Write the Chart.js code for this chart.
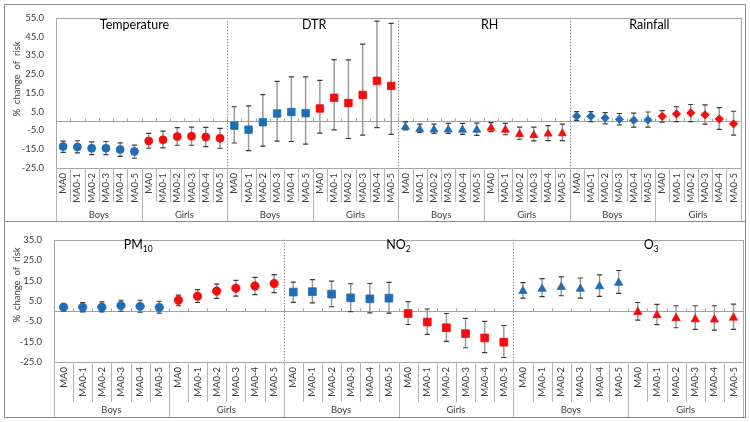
<!DOCTYPE html>
<html>
<head>
<meta charset="utf-8">
<script src="https://cdn.jsdelivr.net/npm/chart.js@4.4.1/dist/chart.umd.min.js"></script>
<style>
  body { margin: 0; background: #fff; }
  canvas { display: block; }
</style>
</head>
<body>
<canvas id="topChart" width="750" height="222"></canvas>
<canvas id="bottomChart" width="750" height="200"></canvas>
<script>
// Categories
const lags = ['MA0', 'MA0-1', 'MA0-2', 'MA0-3', 'MA0-4', 'MA0-5'];
const sexes = ['Boys', 'Girls'];

// Top panel: weather factors
const topFactors = ['Temperature', 'DTR', 'RH', 'Rainfall'];
const topYTicks = [-25, -15, -5, 5, 15, 25, 35, 45, 55];

// each array: Boys MA0..MA0-5, then Girls MA0..MA0-5
const tempEst  = [-13.6, -13.8, -14.5, -14.5, -15.2, -16.2, -10.6, -10.0, -8.3, -8.1, -8.5, -9.2];
const tempLow  = [-16.7, -17.0, -17.9, -17.9, -18.8, -19.8, -14.5, -14.3, -12.9, -12.9, -13.6, -14.5];
const tempHigh = [-10.7, -10.5, -11.1, -10.9, -11.6, -12.8, -6.6, -5.4, -3.5, -3.2, -3.4, -3.9];

const dtrEst  = [-2.5, -4.6, -0.6, 4.0, 4.8, 4.2, 6.7, 12.4, 9.6, 13.9, 21.4, 18.7];
const dtrLow  = [-11.7, -15.7, -13.4, -10.7, -10.9, -12.3, -6.4, -4.7, -9.3, -7.5, -3.5, -7.1];
const dtrHigh = [7.6, 8.1, 14.1, 21.1, 23.5, 23.5, 21.6, 32.7, 32.5, 40.9, 53.2, 52.0];

const rhEst  = [-3.2, -4.4, -4.6, -4.6, -4.7, -4.7, -3.7, -4.7, -7.0, -7.5, -6.8, -6.6];
const rhLow  = [-4.7, -6.1, -6.6, -6.6, -7.1, -7.6, -5.6, -7.3, -9.7, -10.6, -10.4, -10.4];
const rhHigh = [-0.5, -1.6, -1.6, -1.3, -1.3, -1.1, -0.8, -1.3, -3.2, -3.2, -2.4, -1.6];

const rainEst  = [2.6, 2.5, 1.6, 0.9, 0.4, 0.6, 2.5, 3.8, 4.3, 3.3, 1.1, -1.5];
const rainLow  = [0.4, -0.3, -1.5, -2.1, -3.2, -3.2, -0.6, -0.3, -0.3, -1.6, -4.4, -7.5];
const rainHigh = [5.0, 5.0, 4.5, 4.0, 4.2, 4.8, 5.5, 7.6, 8.8, 8.6, 7.1, 5.2];

// Bottom panel: air pollutants
const bottomFactors = ['PM10', 'NO2', 'O3'];
const bottomYTicks = [-25, -15, -5, 5, 15, 25, 35];

const pmEst  = [1.9, 1.9, 1.9, 2.7, 2.3, 1.8, 5.3, 7.3, 9.8, 11.2, 12.3, 13.5];
const pmLow  = [0.1, -0.4, -0.4, -0.1, -0.6, -1.0, 2.6, 4.2, 6.2, 7.3, 8.1, 9.0];
const pmHigh = [3.7, 4.2, 4.5, 5.3, 5.3, 4.8, 7.8, 10.5, 13.2, 15.0, 16.5, 17.9];

const no2Est  = [9.3, 9.5, 8.3, 6.5, 6.0, 6.3, -1.2, -5.4, -8.2, -11.1, -13.2, -15.3];
const no2Low  = [4.3, 4.0, 2.1, -0.3, -0.9, -1.0, -6.6, -11.4, -14.9, -18.0, -20.4, -22.8];
const no2High = [14.2, 15.4, 14.7, 13.4, 13.5, 14.1, 4.6, 1.0, -1.2, -3.6, -5.1, -7.1];

const o3Est  = [9.8, 10.9, 11.8, 10.9, 12.1, 13.8, -0.5, -2.1, -3.5, -4.1, -4.2, -3.3];
const o3Low  = [6.3, 7.1, 7.5, 6.3, 7.2, 8.7, -4.5, -6.7, -8.2, -9.0, -9.4, -9.0];
const o3High = [13.9, 15.9, 16.8, 16.2, 17.7, 19.9, 4.2, 3.3, 2.6, 2.6, 2.6, 3.4];

// Styling
const FONT = 'Lato, "Liberation Sans", sans-serif';
const sexColors = ['#1f6db5', '#f20c0c'];

const topSeries = [
  { est: tempEst, low: tempLow, high: tempHigh, marker: 'circle', radius: 4 },
  { est: dtrEst, low: dtrLow, high: dtrHigh, marker: 'rect', radius: 5.3 },
  { est: rhEst, low: rhLow, high: rhHigh, marker: 'triangle', radius: 4.6 },
  { est: rainEst, low: rainLow, high: rainHigh, marker: 'rectRot', radius: 4.2 }
];
const bottomSeries = [
  { est: pmEst, low: pmLow, high: pmHigh, marker: 'circle', radius: 4.2 },
  { est: no2Est, low: no2Low, high: no2High, marker: 'rect', radius: 5.5 },
  { est: o3Est, low: o3Low, high: o3High, marker: 'triangle', radius: 4.8 }
];

const topLayout = {
  plotTop: 11, plotLeft: 56, plotRight: 744, axisHeight: 54,
  level1Bottom: 202, groupLabelY: 215, boxTop: 4.5, boxBottom: 221.5,
  yTitleY: 79, titleY: 25, titleShift: [-0.5, 0.1, 0.4, -0.4]
};
const bottomLayout = {
  plotTop: 6, plotLeft: 54, plotRight: 744, axisHeight: 60,
  level1Bottom: 180, groupLabelY: 188, boxTop: null, boxBottom: 195.5,
  yTitleY: 63, titleY: 23, titleShift: [-1.6, 0, 1.2]
};

function drawTitle(ctx, text, cx, cy, size) {
  const m = text.match(/^([A-Za-z]+?)(\d+)$/);
  const base = m ? m[1] : text;
  const sub = m ? m[2] : '';
  ctx.font = size + 'px ' + FONT;
  const wb = ctx.measureText(base).width;
  ctx.font = (size * 0.68) + 'px ' + FONT;
  const ws = ctx.measureText(sub).width;
  const sx = cx - (wb + ws) / 2;
  ctx.textAlign = 'left';
  ctx.textBaseline = 'middle';
  ctx.font = size + 'px ' + FONT;
  ctx.fillText(base, sx, cy);
  if (sub) {
    ctx.font = (size * 0.68) + 'px ' + FONT;
    ctx.fillText(sub, sx + wb, cy + size * 0.32);
  }
}

// Decorations: zero line, dividers, error bars, multi-level labels, titles
const panelDecor = {
  id: 'panelDecor',
  beforeDatasetsDraw(chart, args, opts) {
    const { ctx, chartArea: a, scales: { x, y } } = chart;
    const n = x.getLabels().length;
    const y0 = Math.round(y.getPixelForValue(0)) + 0.5;
    ctx.save();
    ctx.strokeStyle = '#a0a0a0';
    ctx.lineWidth = 1;
    ctx.beginPath();
    ctx.moveTo(a.left, y0);
    ctx.lineTo(a.right, y0);
    for (let i = 1; i < n; i++) {
      const bx = Math.round(x.getPixelForValue(i - 0.5)) + 0.5;
      ctx.moveTo(bx, y0 - 3);
      ctx.lineTo(bx, y0);
    }
    ctx.stroke();

    // dotted dividers between factors
    ctx.setLineDash([1.5, 1.5]);
    ctx.strokeStyle = '#8c8c8c';
    ctx.beginPath();
    for (let i = 12; i < n; i += 12) {
      const bx = Math.round(x.getPixelForValue(i - 0.5)) + 0.5;
      ctx.moveTo(bx, a.top);
      ctx.lineTo(bx, a.bottom);
    }
    ctx.stroke();
    ctx.setLineDash([]);

    // error bars
    chart.data.datasets.forEach(ds => {
      ds.data.forEach((v, i) => {
        if (v === null) return;
        const px = x.getPixelForValue(i);
        const pLo = y.getPixelForValue(ds.errLow[i]);
        const pHi = y.getPixelForValue(ds.errHigh[i]);
        ctx.strokeStyle = '#9a9a9a';
        ctx.lineWidth = 1.5;
        ctx.beginPath();
        ctx.moveTo(px, pLo);
        ctx.lineTo(px, pHi);
        ctx.stroke();
        ctx.strokeStyle = '#3a3a3a';
        ctx.lineWidth = 1.2;
        ctx.beginPath();
        ctx.moveTo(px - 2.6, pLo);
        ctx.lineTo(px + 2.6, pLo);
        ctx.moveTo(px - 2.6, pHi);
        ctx.lineTo(px + 2.6, pHi);
        ctx.stroke();
      });
    });
    ctx.restore();
  },
  afterDraw(chart, args, opts) {
    const { ctx, chartArea: a, scales: { x } } = chart;
    const L = opts.layout;
    const n = x.getLabels().length;
    const W = chart.width;
    ctx.save();

    // plot area box
    ctx.strokeStyle = '#a6a6a6';
    ctx.lineWidth = 1;
    ctx.strokeRect(Math.round(a.left) + 0.5, Math.round(a.top) + 0.5,
      Math.round(a.right - a.left), Math.round(a.bottom - a.top));

    // category separators below the axis
    ctx.strokeStyle = '#b4b4b4';
    ctx.beginPath();
    for (let i = 0; i <= n; i++) {
      const bx = Math.round(x.getPixelForValue(i - 0.5)) + 0.5;
      ctx.moveTo(bx, a.bottom);
      ctx.lineTo(bx, i % 6 === 0 ? L.boxBottom : L.level1Bottom);
    }
    ctx.stroke();

    // Boys / Girls group labels
    ctx.fillStyle = '#404040';
    ctx.font = '9.5px ' + FONT;
    ctx.textAlign = 'center';
    ctx.textBaseline = 'middle';
    for (let g = 0; g < n / 6; g++) {
      const cx = (x.getPixelForValue(g * 6) + x.getPixelForValue(g * 6 + 5)) / 2;
      ctx.fillText(sexes[g % 2], cx, L.groupLabelY);
    }

    // factor titles
    ctx.fillStyle = '#000';
    opts.factors.forEach((f, fi) => {
      const cx = x.getPixelForValue(fi * 12 + 5.5 + L.titleShift[fi]);
      drawTitle(ctx, f, cx, L.titleY, 12.5);
    });

    // y-axis title
    ctx.save();
    ctx.translate(17, L.yTitleY);
    ctx.rotate(-Math.PI / 2);
    ctx.fillStyle = '#404040';
    ctx.font = '9.5px ' + FONT;
    ctx.textAlign = 'center';
    ctx.textBaseline = 'middle';
    ctx.fillText('%  change  of  risk', 0, 0);
    ctx.restore();

    // outer frame
    ctx.strokeStyle = '#8a8a8a';
    ctx.beginPath();
    const top = L.boxTop === null ? 0 : L.boxTop;
    if (L.boxTop !== null) {
      ctx.moveTo(4.5, L.boxTop);
      ctx.lineTo(W - 4.5, L.boxTop);
    }
    ctx.moveTo(4.5, top);
    ctx.lineTo(4.5, L.boxBottom);
    ctx.lineTo(W - 4.5, L.boxBottom);
    ctx.lineTo(W - 4.5, top);
    ctx.stroke();
    ctx.restore();
  }
};

function buildChart(canvasId, factors, series, yTicks, layout) {
  const labels = [];
  factors.forEach(() => sexes.forEach(() => lags.forEach(l => labels.push(l))));

  const datasets = [];
  factors.forEach((f, fi) => {
    const s = series[fi];
    sexes.forEach((sex, si) => {
      const data = new Array(labels.length).fill(null);
      const errLow = new Array(labels.length).fill(null);
      const errHigh = new Array(labels.length).fill(null);
      lags.forEach((lag, li) => {
        const k = si * lags.length + li;
        const idx = fi * 12 + k;
        data[idx] = s.est[k];
        errLow[idx] = s.low[k];
        errHigh[idx] = s.high[k];
      });
      datasets.push({
        label: f + ' ' + sex,
        data: data,
        errLow: errLow,
        errHigh: errHigh,
        showLine: false,
        pointStyle: s.marker,
        pointRadius: s.radius,
        pointHoverRadius: s.radius,
        pointBorderWidth: 0.8,
        backgroundColor: sexColors[si],
        borderColor: sexColors[si]
      });
    });
  });

  const canvas = document.getElementById(canvasId);
  return new Chart(canvas.getContext('2d'), {
    type: 'line',
    data: { labels, datasets },
    plugins: [panelDecor],
    options: {
      responsive: false,
      animation: false,
      layout: {
        padding: { top: layout.plotTop, right: canvas.width - layout.plotRight, left: 0, bottom: 0 }
      },
      scales: {
        x: {
          type: 'category',
          offset: true,
          grid: { display: false, drawTicks: false },
          border: { display: false },
          ticks: {
            autoSkip: false,
            minRotation: 90,
            maxRotation: 90,
            padding: 5,
            color: '#404040',
            font: { family: FONT, size: 9.5 }
          },
          afterFit(scale) { scale.height = layout.axisHeight; }
        },
        y: {
          min: yTicks[0],
          max: yTicks[yTicks.length - 1],
          grid: { display: false, drawTicks: false },
          border: { display: false },
          afterBuildTicks(scale) { scale.ticks = yTicks.map(v => ({ value: v })); },
          ticks: {
            padding: 12,
            color: '#404040',
            font: { family: FONT, size: 9.5 },
            callback: v => Number(v).toFixed(1)
          },
          afterFit(scale) { scale.width = layout.plotLeft; }
        }
      },
      plugins: {
        legend: { display: false },
        tooltip: { enabled: false },
        panelDecor: { layout: layout, factors: factors }
      }
    }
  });
}

buildChart('topChart', topFactors, topSeries, topYTicks, topLayout);
buildChart('bottomChart', bottomFactors, bottomSeries, bottomYTicks, bottomLayout);
</script>
</body>
</html>
